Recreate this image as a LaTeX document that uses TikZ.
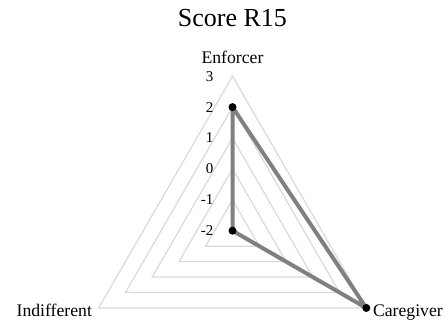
\documentclass[tikz,border=0pt]{standalone}
\usepackage{fontspec}
\setmainfont{Liberation Serif}
\usetikzlibrary{calc}
\begin{document}
\begin{tikzpicture}[x=1pt,y=1pt,
  ring/.style={draw=gray!30, line width=1.2pt, line join=miter},
  series/.style={draw=gray, line width=4pt, line join=round},
  marker/.style={circle, fill=black, inner sep=0pt, minimum size=8pt},
  axislabel/.style={font=\fontsize{17.7}{20}\selectfont, inner sep=0pt},
  ticklabel/.style={font=\fontsize{15}{17}\selectfont, anchor=east, inner sep=0pt},
  titlelabel/.style={font=\fontsize{26}{30}\selectfont, inner sep=0pt, anchor=base},
]
\useasboundingbox (0,0) rectangle (448,325);
\def\unit{30.9}
\node[titlelabel] (title) at (232.4,298.3) {Score R15};
\begin{scope}[shift={(232.5,94.3)}]
  % concentric triangular gridlines for values -1 .. 3 (centre is -2)
  \foreach \v in {-1,...,3} {
    \pgfmathsetmacro{\r}{(\v+2)*\unit}
    \draw[ring] (90:\r) -- (-30:\r) -- (210:\r) -- cycle;
  }
  % value scale along the top axis
  \foreach \v in {-2,...,3} {
    \pgfmathsetmacro{\r}{(\v+2)*\unit}
    \node[ticklabel] (tick\v) at (-19,\r) {\v};
  }
  % axis vertices
  \coordinate (E) at (90:5*\unit);
  \coordinate (Cg) at (-30:5*\unit);
  \coordinate (I) at (210:5*\unit);
  % axis names
  \node[axislabel, anchor=base] (lE) at ($(E)+(0,12.7)$) {Enforcer};
  \node[axislabel, anchor=base west] (lC) at ($(Cg)+(6.5,-8.6)$) {Caregiver};
  \node[axislabel, anchor=base east] (lI) at ($(I)+(-6.5,-8.6)$) {Indifferent};
  % data values: Enforcer 2, Caregiver 3, Indifferent -2
  \coordinate (dE) at (90:4*\unit);
  \coordinate (dC) at (-30:5*\unit);
  \coordinate (dI) at (0,0);
  \draw[series] (dE) -- (dC) -- (dI) -- cycle;
  \node[marker] (pE) at (dE) {};
  \node[marker] (pC) at (dC) {};
  \node[marker] (pI) at (dI) {};
\end{scope}
\end{tikzpicture}
\end{document}
